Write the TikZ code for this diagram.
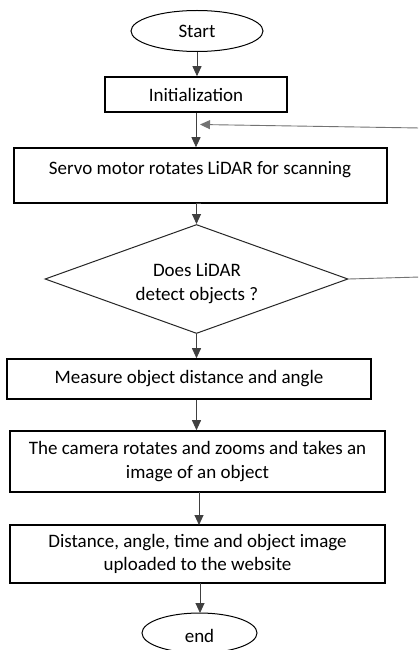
\documentclass[tikz,border=0pt]{standalone}
\usepackage{fontspec}
\setmainfont{Carlito}
\usetikzlibrary{shapes.geometric,arrows.meta}
\begin{document}
\begin{tikzpicture}[x=1bp,y=-1bp,
  box/.style={draw=black,line width=1.6bp,rectangle,inner sep=0pt},
  term/.style={draw=black,line width=1bp,ellipse,inner sep=0pt},
  dec/.style={draw=black!85,line width=1bp,diamond,inner sep=0pt},
  lbl/.style={font=\fontsize{19bp}{23.5bp}\selectfont,align=center,inner sep=0pt},
  flow/.style={draw=black!75,line width=0.9bp,-{Triangle[length=10bp,width=9bp]}},
  back/.style={draw=black!55,line width=0.9bp}]
\useasboundingbox (0,0) rectangle (418,650);
\fill[white] (0,0) rectangle (418,650);
\clip (0,0) rectangle (418,650);
% nodes
\node[term,minimum width=132bp,minimum height=41bp] (start) at (197,31) {};
\node[lbl] at (start.center) {Start};
\node[box,minimum width=182bp,minimum height=35bp] (init) at (196,94.5) {};
\node[lbl] at (init.center) {Initialization};
\node[box,minimum width=373bp,minimum height=55bp] (servo) at (200.5,175.5) {};
\node[lbl] (servot) at (200,170) {Servo motor rotates LiDAR for scanning};
\node[dec,minimum width=303bp,minimum height=109bp] (dec) at (196.5,279) {};
\node[lbl] (dect) at (197,283.5) {Does LiDAR\\detect objects ?};
\node[box,minimum width=364bp,minimum height=40bp] (meas) at (189,379) {};
\node[lbl] at (meas.center) {Measure object distance and angle};
\node[box,minimum width=375bp,minimum height=61bp] (cam) at (197.5,461.5) {};
\node[lbl] at (cam.center) {The camera rotates and zooms and takes an\\image of an object};
\node[box,minimum width=375bp,minimum height=58bp] (dist) at (197.5,554) {};
\node[lbl] at (dist.center) {Distance, angle, time and object image\\uploaded to the website};
\node[term,minimum width=115bp,minimum height=40bp] (end) at (199.5,633) {};
\node[lbl] at (199.5,636) {end};
% loop-back ends beyond the visible edge
\coordinate (loopin) at (200,124.5);
\coordinate (edgeA) at (420,128);
\coordinate (edgeB) at (420,277);
% connectors
\draw[flow] (start.south) -- (start.south |- init.north);
\draw[flow] (init.south) -- (init.south |- servo.north);
\draw[flow] (servo.south) -- (servo.south -| dec.north) -- (dec.north);
\draw[flow] (dec.south) -- (dec.south |- meas.north);
\draw[flow] (meas.south -| dec.south) -- (dec.south |- cam.north);
\draw[flow] (199,492) -- (199,525);
\draw[flow] (200,583) -- (200,613);
\draw[back] (dec.east) -- (edgeB);
\draw[back,-{Triangle[length=10bp,width=9bp]}] (edgeA) -- (loopin);
\end{tikzpicture}
\end{document}
